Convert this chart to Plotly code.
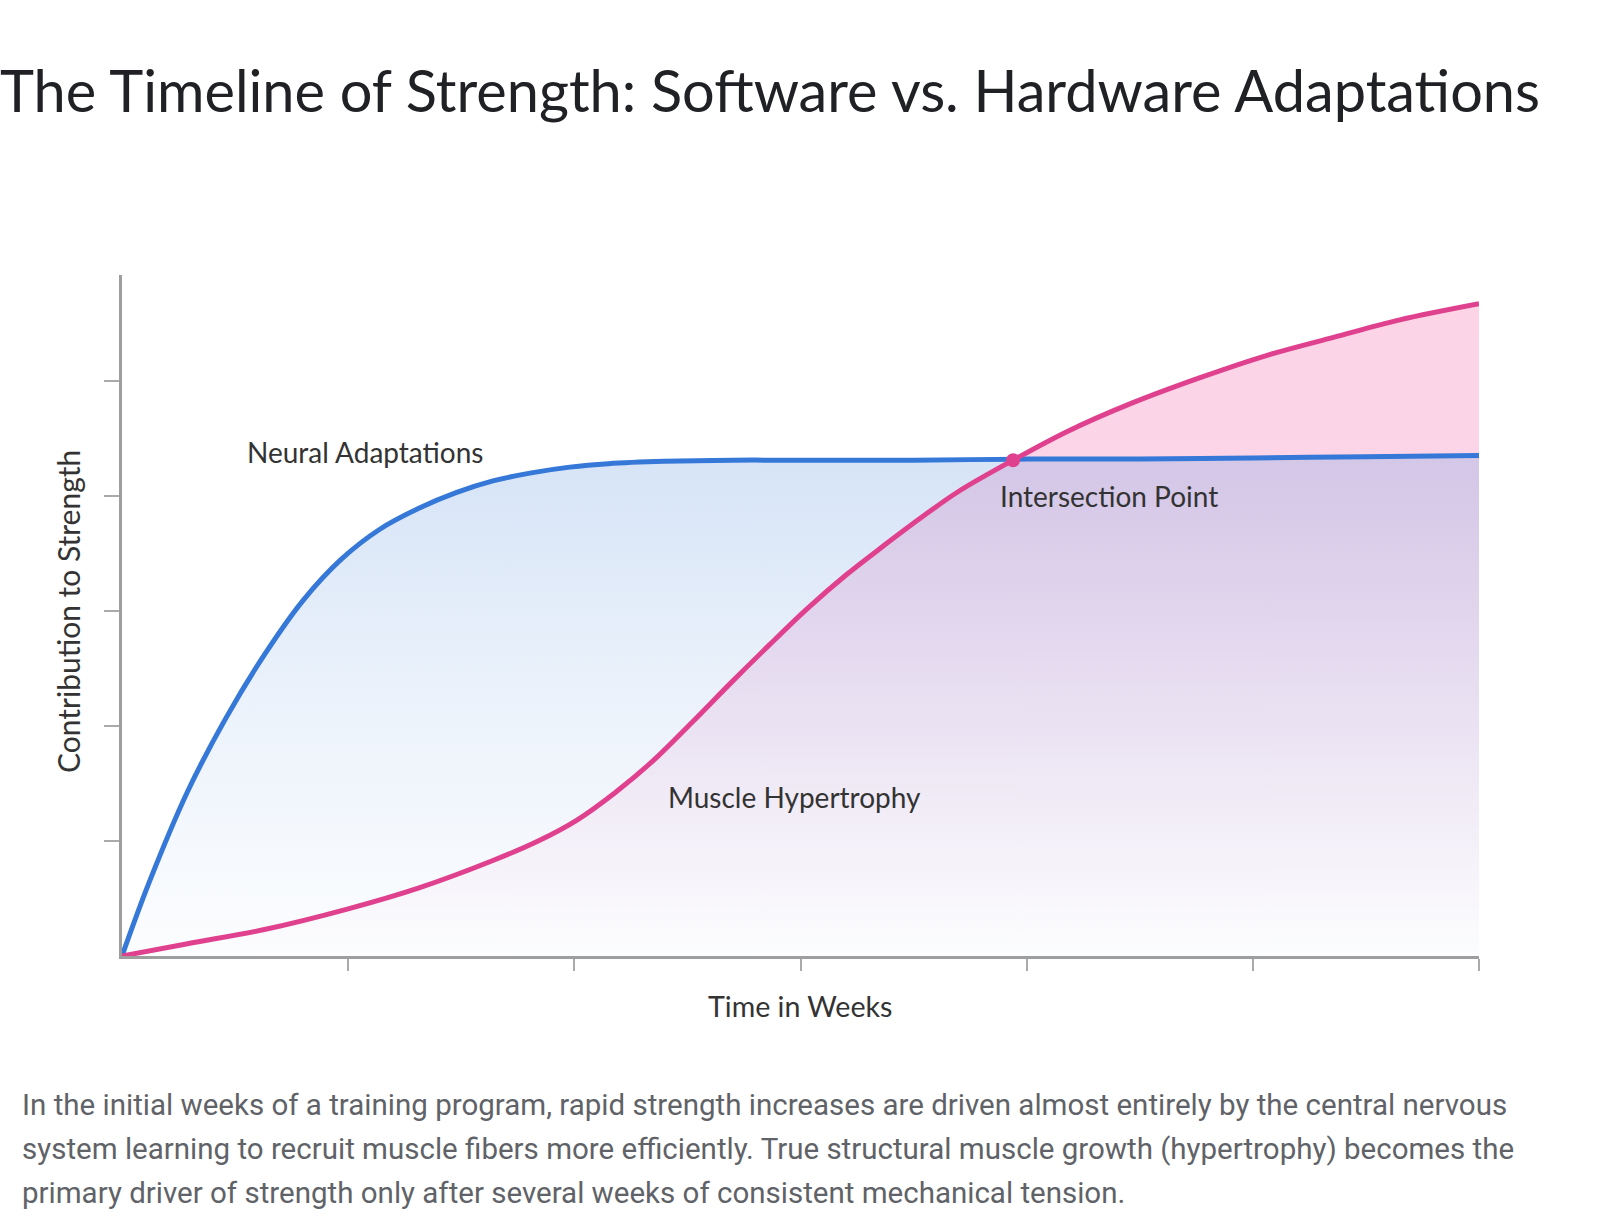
import plotly.graph_objects as go

# ---- data ----
weeks_neural = [0, 0.12, 0.29, 0.46, 0.63, 0.80, 0.97, 1.14, 1.31, 1.48, 1.64, 1.81,
                1.98, 2.15, 2.4, 2.7, 3.0, 3.5, 4.0, 4.5, 5.0, 5.5, 6.0]
neural = [0, 0.64, 1.43, 2.07, 2.62, 3.09, 3.45, 3.71, 3.89, 4.03, 4.13, 4.20,
          4.25, 4.28, 4.30, 4.31, 4.31, 4.31, 4.32, 4.32, 4.33, 4.34, 4.35]

weeks_hyper = [0, 0.29, 0.63, 1.0, 1.31, 1.64, 1.84, 2.01, 2.18, 2.35, 2.52, 2.69,
               2.86, 3.03, 3.20, 3.37, 3.54, 3.70, 3.94, 4.18, 4.47, 4.77, 5.06,
               5.36, 5.65, 6.0]
hyper = [0, 0.107, 0.23, 0.41, 0.59, 0.83, 1.00, 1.18, 1.42, 1.70, 2.03, 2.37,
         2.70, 3.02, 3.31, 3.57, 3.82, 4.04, 4.31, 4.56, 4.81, 5.03, 5.22,
         5.38, 5.53, 5.67]

intersection_week = [3.94]
intersection_value = [4.31]

x_ticks = [1, 2, 3, 4, 5, 6]
y_ticks = [1, 2, 3, 4, 5]

title = "The Timeline of Strength: Software vs. Hardware Adaptations"
x_title = "Time in Weeks"
y_title = "Contribution to Strength"
caption_lines = [
    "In the initial weeks of a training program, rapid strength increases are driven almost entirely by the central nervous",
    "system learning to recruit muscle fibers more efficiently. True structural muscle growth (hypertrophy) becomes the",
    "primary driver of strength only after several weeks of consistent mechanical tension.",
]

# ---- layout geometry (pixels) ----
W, H = 1600, 1226
L, R, T, B = 122, 1479, 275, 956
PW, PH = R - L, B - T


def px(xp):
    return (xp - L) / PW


def py(yp):
    return (B - yp) / PH


BLUE = "#3578d8"
PINK = "#e0418e"
FONT = "Lato"
SMOOTH = 1.0

fig = go.Figure()

# pink fill (under hypertrophy curve)
fig.add_trace(go.Scatter(
    x=weeks_hyper, y=hyper, mode="lines",
    line=dict(width=0, shape="spline", smoothing=SMOOTH),
    fill="tozeroy",
    fillgradient=dict(type="vertical", start=0, stop=max(hyper),
                      colorscale=[[0, "rgba(252,214,232,0.0)"],
                                  [0.35, "rgba(248,206,230,0.4)"],
                                  [0.72, "rgba(251,208,230,0.9)"],
                                  [1, "rgba(252,212,230,1)"]]),
    hoverinfo="skip", showlegend=False))

# blue fill (under neural curve)
fig.add_trace(go.Scatter(
    x=weeks_neural, y=neural, mode="lines",
    line=dict(width=0, shape="spline", smoothing=SMOOTH),
    fill="tozeroy",
    fillgradient=dict(type="vertical", start=0, stop=max(neural),
                      colorscale=[[0, "rgba(150,185,232,0.03)"],
                                  [0.5, "rgba(140,180,232,0.17)"],
                                  [1, "rgba(130,172,230,0.33)"]]),
    hoverinfo="skip", showlegend=False))

# lines
fig.add_trace(go.Scatter(x=weeks_neural, y=neural, mode="lines",
                         line=dict(color=BLUE, width=5, shape="spline", smoothing=SMOOTH),
                         showlegend=False))
fig.add_trace(go.Scatter(x=weeks_hyper, y=hyper, mode="lines",
                         line=dict(color=PINK, width=5, shape="spline", smoothing=SMOOTH),
                         showlegend=False))
fig.add_trace(go.Scatter(x=intersection_week, y=intersection_value, mode="markers",
                         marker=dict(color=PINK, size=14), showlegend=False))

LABEL_FONT = dict(family=FONT, size=28, color="#333333")
annotations = [
    dict(x=0.545, y=4.38, xref="x", yref="y", text="Neural Adaptations", xanchor="left",
         yanchor="middle", showarrow=False, font=LABEL_FONT),
    dict(x=3.875, y=4.0, xref="x", yref="y", text="Intersection Point", xanchor="left",
         yanchor="middle", showarrow=False, font=LABEL_FONT),
    dict(x=2.405, y=1.38, xref="x", yref="y", text="Muscle Hypertrophy", xanchor="left",
         yanchor="middle", showarrow=False, font=LABEL_FONT),
    dict(x=px(800), y=py(1006), xref="paper", yref="paper", text=x_title, xanchor="center",
         yanchor="middle", showarrow=False, font=dict(family=FONT, size=28.6, color="#333333")),
    dict(x=px(68), y=py(612), xref="paper", yref="paper", text=y_title, xanchor="center",
         yanchor="middle", textangle=-90, showarrow=False,
         font=dict(family=FONT, size=30, color="#333333")),
]
for i, line in enumerate(caption_lines):
    annotations.append(dict(x=px(20), y=py(1105 + 44 * i), xref="paper", yref="paper",
                            text=line, xanchor="left", yanchor="middle", showarrow=False,
                            font=dict(family="Roboto", size=29.5, color="#5f6368")))

fig.update_layout(
    width=W, height=H,
    margin=dict(l=L, r=W - R, t=T, b=H - B),
    paper_bgcolor="white", plot_bgcolor="white",
    title=dict(text=title, x=0, xref="container", xanchor="left",
               y=1 - 92 / H, yref="container", yanchor="middle",
               font=dict(family=FONT, size=57.7, color="#202124")),
    xaxis=dict(range=[0, 6], showgrid=False, zeroline=False, showline=True,
               linecolor="#9e9e9e", linewidth=3, ticks="outside", ticklen=12,
               tickwidth=2, tickcolor="#aaaaaa", tickvals=x_ticks, showticklabels=False),
    yaxis=dict(range=[0, 5.92], showgrid=False, zeroline=False, showline=True,
               linecolor="#9e9e9e", linewidth=3, ticks="outside", ticklen=15,
               tickwidth=2, tickcolor="#aaaaaa", tickvals=y_ticks, showticklabels=False),
    annotations=annotations,
    showlegend=False,
)

fig.write_html("out.html")
